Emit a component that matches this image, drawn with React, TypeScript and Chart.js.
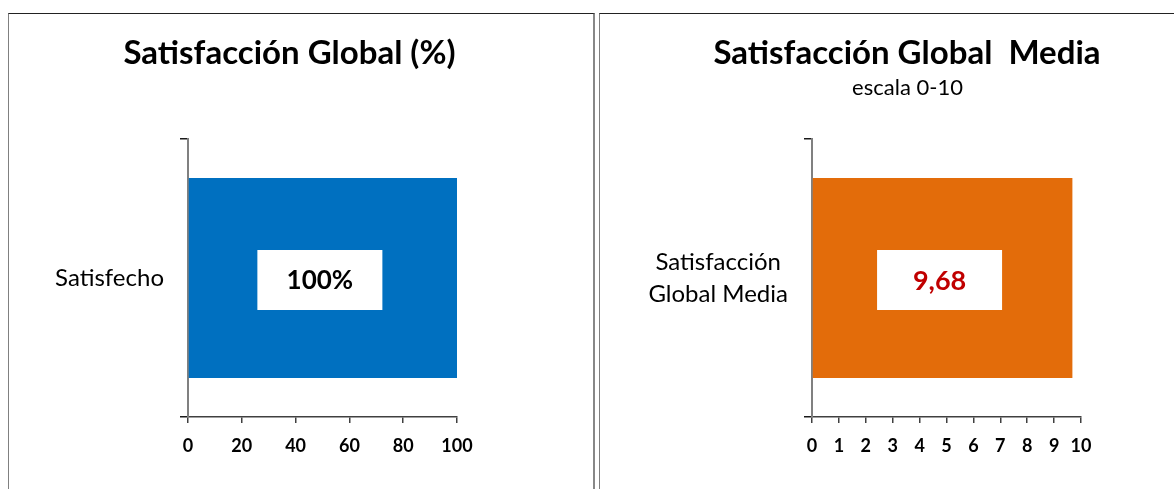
import React, { useEffect, useRef } from "react";
import { Chart, registerables } from "chart.js";

Chart.register(...registerables);

// ---- Data ----
const leftTitle = "Satisfacción Global (%)";
const leftCategories = ["Satisfecho"];
const leftValues = [100];
const leftAxisMax = 100;
const leftAxisStep = 20;

const rightTitle = "Satisfacción Global  Media";
const rightSubtitle = "escala 0-10";
const rightCategories = [["Satisfacción", "Global Media"]];
const rightValues = [9.68];
const rightAxisMax = 10;
const rightAxisStep = 1;

const FONT = "Lato, 'Open Sans', sans-serif";

type PanelSpec = {
  left: number;
  top: number;
  width: number;
  height: number;
  chartLeft: number;
  chartRight: number;
  chartTop: number;
  chartBottom: number;
  texts: { text: string; x: number; y: number; font: string }[];
  categories: any[];
  values: number[];
  max: number;
  step: number;
  color: string;
  labelColor: string;
  labelSize: number;
  format: (v: number) => string;
};

function makeChart(canvas: HTMLCanvasElement, s: PanelSpec) {
  const textPlugin = {
    id: "panelText",
    afterDraw(chart: any) {
      const ctx = chart.ctx;
      ctx.save();
      ctx.fillStyle = "#000";
      ctx.textAlign = "center";
      ctx.textBaseline = "middle";
      for (const t of s.texts) {
        ctx.font = t.font;
        ctx.fillText(t.text, t.x, t.y);
      }
      ctx.restore();
    },
  };
  const labelPlugin = {
    id: "boxLabels",
    afterDatasetsDraw(chart: any) {
      const ctx = chart.ctx;
      const meta = chart.getDatasetMeta(0);
      ctx.save();
      meta.data.forEach((el: any, i: number) => {
        const cx = (el.x + el.base) / 2 - 3;
        const cy = el.y + 2;
        const w = 125;
        const h = 60;
        ctx.fillStyle = "#ffffff";
        ctx.fillRect(cx - w / 2, cy - h / 2, w, h);
        ctx.fillStyle = s.labelColor;
        ctx.font = `bold ${s.labelSize}px ${FONT}`;
        ctx.textAlign = "center";
        ctx.textBaseline = "middle";
        ctx.fillText(s.format(s.values[i]), cx, cy + 1);
      });
      ctx.restore();
    },
  };

  const yWidth = s.chartLeft;
  const xHeight = s.height - s.chartBottom;

  return new Chart(canvas, {
    type: "bar",
    data: {
      labels: s.categories,
      datasets: [
        {
          data: s.values,
          backgroundColor: s.color,
          borderWidth: 0,
          barPercentage: 0.72,
          categoryPercentage: 1,
        },
      ],
    },
    options: {
      indexAxis: "y",
      responsive: false,
      animation: false,
      devicePixelRatio: 1,
      layout: {
        padding: {
          left: 0,
          top: s.chartTop,
          right: s.width - s.chartRight,
          bottom: 0,
        },
      },
      plugins: {
        legend: { display: false },
        tooltip: { enabled: false },
        title: { display: false },
      },
      scales: {
        x: {
          type: "linear",
          min: 0,
          max: s.max,
          afterFit: (scale: any) => {
            scale.height = xHeight;
          },
          ticks: {
            stepSize: s.step,
            color: "#000",
            padding: 12,
            font: { family: FONT, size: 18, weight: "bold" },
          },
          grid: {
            display: true,
            drawOnChartArea: false,
            drawTicks: true,
            tickLength: 6,
            color: "#404040",
            lineWidth: 1.5,
          },
          border: { display: true, color: "#404040", width: 1.5 },
        },
        y: {
          type: "category",
          offset: true,
          afterFit: (scale: any) => {
            scale.width = yWidth;
          },
          ticks: {
            color: "#000",
            padding: 16,
            crossAlign: "center",
            font: { family: FONT, size: 24, weight: "normal", lineHeight: 1.35 },
          },
          grid: {
            display: true,
            offset: true,
            drawOnChartArea: false,
            drawTicks: true,
            tickLength: 8,
            color: "#1a1a1a",
            lineWidth: 1.5,
          },
          border: { display: true, color: "#808080", width: 2 },
        },
      },
    },
    plugins: [textPlugin, labelPlugin],
  } as any);
}

function ChartCanvas({ spec }: { spec: PanelSpec }) {
  const ref = useRef<HTMLCanvasElement | null>(null);
  useEffect(() => {
    if (!ref.current) return;
    const chart = makeChart(ref.current, spec);
    return () => chart.destroy();
  }, []);
  return (
    <canvas
      ref={ref}
      width={spec.width}
      height={spec.height}
      style={{
        position: "absolute",
        left: spec.left,
        top: spec.top,
        width: spec.width,
        height: spec.height,
      }}
    />
  );
}

const leftSpec: PanelSpec = {
  left: 9,
  top: 14,
  width: 584,
  height: 475,
  chartLeft: 179,
  chartRight: 448,
  chartTop: 125,
  chartBottom: 403,
  texts: [{ text: leftTitle, x: 280.5, y: 39, font: `bold 33px ${FONT}` }],
  categories: leftCategories,
  values: leftValues,
  max: leftAxisMax,
  step: leftAxisStep,
  color: "#0070C0",
  labelColor: "#000000",
  labelSize: 26,
  format: (v) => `${v}%`,
};

const rightSpec: PanelSpec = {
  left: 600,
  top: 14,
  width: 574,
  height: 475,
  chartLeft: 212,
  chartRight: 481,
  chartTop: 125,
  chartBottom: 403,
  texts: [
    { text: rightTitle, x: 307, y: 39, font: `bold 33px ${FONT}` },
    { text: rightSubtitle, x: 307.5, y: 74, font: `normal 22px ${FONT}` },
  ],
  categories: rightCategories,
  values: rightValues,
  max: rightAxisMax,
  step: rightAxisStep,
  color: "#E36C0A",
  labelColor: "#C00000",
  labelSize: 27,
  format: (v) => v.toFixed(2).replace(".", ","),
};

export default function App() {
  return (
    <div
      style={{
        position: "fixed",
        left: 0,
        top: 0,
        width: 1174,
        height: 489,
        overflow: "hidden",
        background: "#fff",
      }}
    >
      <div
        style={{
          position: "absolute",
          left: 8,
          top: 13,
          width: 584,
          height: 500,
          borderTop: "1px solid #222",
          borderLeft: "1px solid #808080",
          borderRight: "2px solid #888",
        }}
      />
      <div
        style={{
          position: "absolute",
          left: 599,
          top: 13,
          width: 600,
          height: 500,
          borderTop: "1px solid #222",
          borderLeft: "1px solid #808080",
        }}
      />
      <ChartCanvas spec={leftSpec} />
      <ChartCanvas spec={rightSpec} />
    </div>
  );
}
